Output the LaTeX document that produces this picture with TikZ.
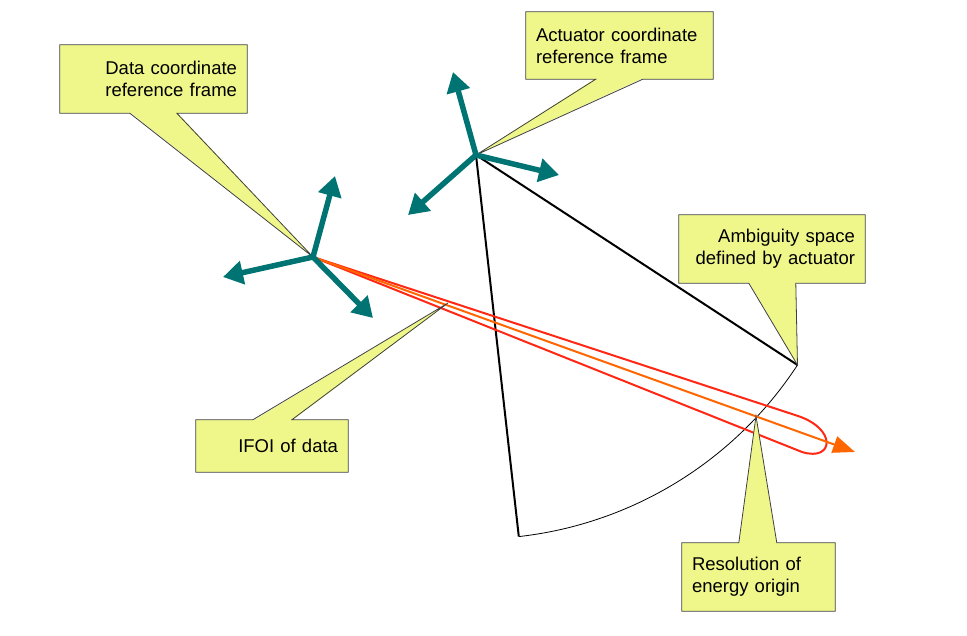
\documentclass[tikz,border=0pt]{standalone}
\usepackage{fontspec}
\setmainfont{Liberation Sans}
\usetikzlibrary{arrows.meta}

\definecolor{frameteal}{RGB}{0,115,115}
\definecolor{noteyellow}{RGB}{240,247,138}
\definecolor{beamred}{RGB}{255,40,20}
\definecolor{beamorange}{RGB}{255,102,0}

\tikzset{
  note/.style={fill=noteyellow, inner xsep=10pt, inner ysep=0pt,
    font=\fontsize{18.5pt}{22pt}\selectfont},
  noteedge/.style={draw=black!75, line width=0.8pt, line join=miter},
  axis/.style={frameteal, line width=5.5pt, -{Triangle[length=20pt,width=23pt]}},
}

\begin{document}
\begin{tikzpicture}[x=1pt,y=-1pt]
\useasboundingbox (0,0) rectangle (967,636);

% The two origins and their axes
\coordinate (dataO) at (313,257);
\coordinate (dataUp) at (335,176);
\coordinate (dataLeft) at (223,277);
\coordinate (dataDown) at (373,318);
\coordinate (actO) at (476,155);
\coordinate (actUp) at (453,72);
\coordinate (actRight) at (559,175);
\coordinate (actDown) at (408,215);
\coordinate (beamEnd) at (855,452);

% Ambiguity space of the actuator
\path (actO) ++(83.6:384) coordinate (arcL);
\path (actO) ++(33.15:384) coordinate (arcR);
\draw[line width=2pt] (actO) -- (arcL);
\draw[line width=2pt] (actO) -- (arcR);
\draw[line width=0.8pt] (arcL) arc[start angle=83.6, end angle=33.15, radius=384];

% IFOI and energy direction
\draw[beamred, line width=2pt, line join=round]
  (dataO) -- (795,415) .. controls (838,428) and (834,462) .. (802,452) -- cycle;
\draw[beamorange, line width=2pt, -{Triangle[length=22pt,width=17pt]}] (dataO) -- (beamEnd);
\coordinate (ifoiPt) at (448,303);
\coordinate (resPt) at (756,416);

% Callouts
\node[note, text width=167pt, minimum height=68pt, align=right] (dataBox) at (153.5,79)
  {Data coordinate\\reference frame};
\fill[noteyellow] ([xshift=70pt,yshift=1pt]dataBox.south west) -- (dataO)
  -- ([xshift=117pt,yshift=1pt]dataBox.south west) -- cycle;
\draw[noteedge] (dataBox.south west) -- (dataBox.north west) -- (dataBox.north east)
  -- (dataBox.south east) -- ([xshift=117pt]dataBox.south west) -- (dataO)
  -- ([xshift=70pt]dataBox.south west) -- cycle;

\node[note, text width=167pt, minimum height=67pt, align=left] (actBox) at (619.5,45.5)
  {Actuator coordinate\\reference frame};
\fill[noteyellow] ([xshift=70pt,yshift=1pt]actBox.south west) -- (actO)
  -- ([xshift=117pt,yshift=1pt]actBox.south west) -- cycle;
\draw[noteedge] (actBox.south west) -- (actBox.north west) -- (actBox.north east)
  -- (actBox.south east) -- ([xshift=117pt]actBox.south west) -- (actO)
  -- ([xshift=70pt]actBox.south west) -- cycle;

\node[note, text width=166pt, minimum height=68pt, align=right] (ambBox) at (772,249)
  {Ambiguity space\\defined by actuator};
\fill[noteyellow] ([xshift=70pt,yshift=1pt]ambBox.south west) -- (arcR)
  -- ([xshift=117pt,yshift=1pt]ambBox.south west) -- cycle;
\draw[noteedge] (ambBox.south west) -- (ambBox.north west) -- (ambBox.north east)
  -- (ambBox.south east) -- ([xshift=117pt]ambBox.south west) -- (arcR)
  -- ([xshift=70pt]ambBox.south west) -- cycle;

\node[note, text width=132pt, minimum height=52pt, align=right] (ifoiBox) at (272,446)
  {IFOI of data};
\fill[noteyellow] ([xshift=57pt,yshift=-1pt]ifoiBox.north west) -- (ifoiPt)
  -- ([xshift=96pt,yshift=-1pt]ifoiBox.north west) -- cycle;
\draw[noteedge] (ifoiBox.north west) -- (ifoiBox.south west) -- (ifoiBox.south east)
  -- (ifoiBox.north east) -- ([xshift=96pt]ifoiBox.north west) -- (ifoiPt)
  -- ([xshift=57pt]ifoiBox.north west) -- cycle;

\node[note, text width=133pt, minimum height=68pt, align=left] (resBox) at (758.5,577)
  {Resolution of\\energy origin};
\fill[noteyellow] ([xshift=57pt,yshift=-1pt]resBox.north west) -- (resPt)
  -- ([xshift=95pt,yshift=-1pt]resBox.north west) -- cycle;
\draw[noteedge] (resBox.north west) -- (resBox.south west) -- (resBox.south east)
  -- (resBox.north east) -- ([xshift=95pt]resBox.north west) -- (resPt)
  -- ([xshift=57pt]resBox.north west) -- cycle;

% Axes of the two frames
\foreach \tip in {dataUp,dataLeft,dataDown}
  \draw[axis] (dataO) -- (\tip);
\foreach \tip in {actUp,actRight,actDown}
  \draw[axis] (actO) -- (\tip);

\end{tikzpicture}
\end{document}
